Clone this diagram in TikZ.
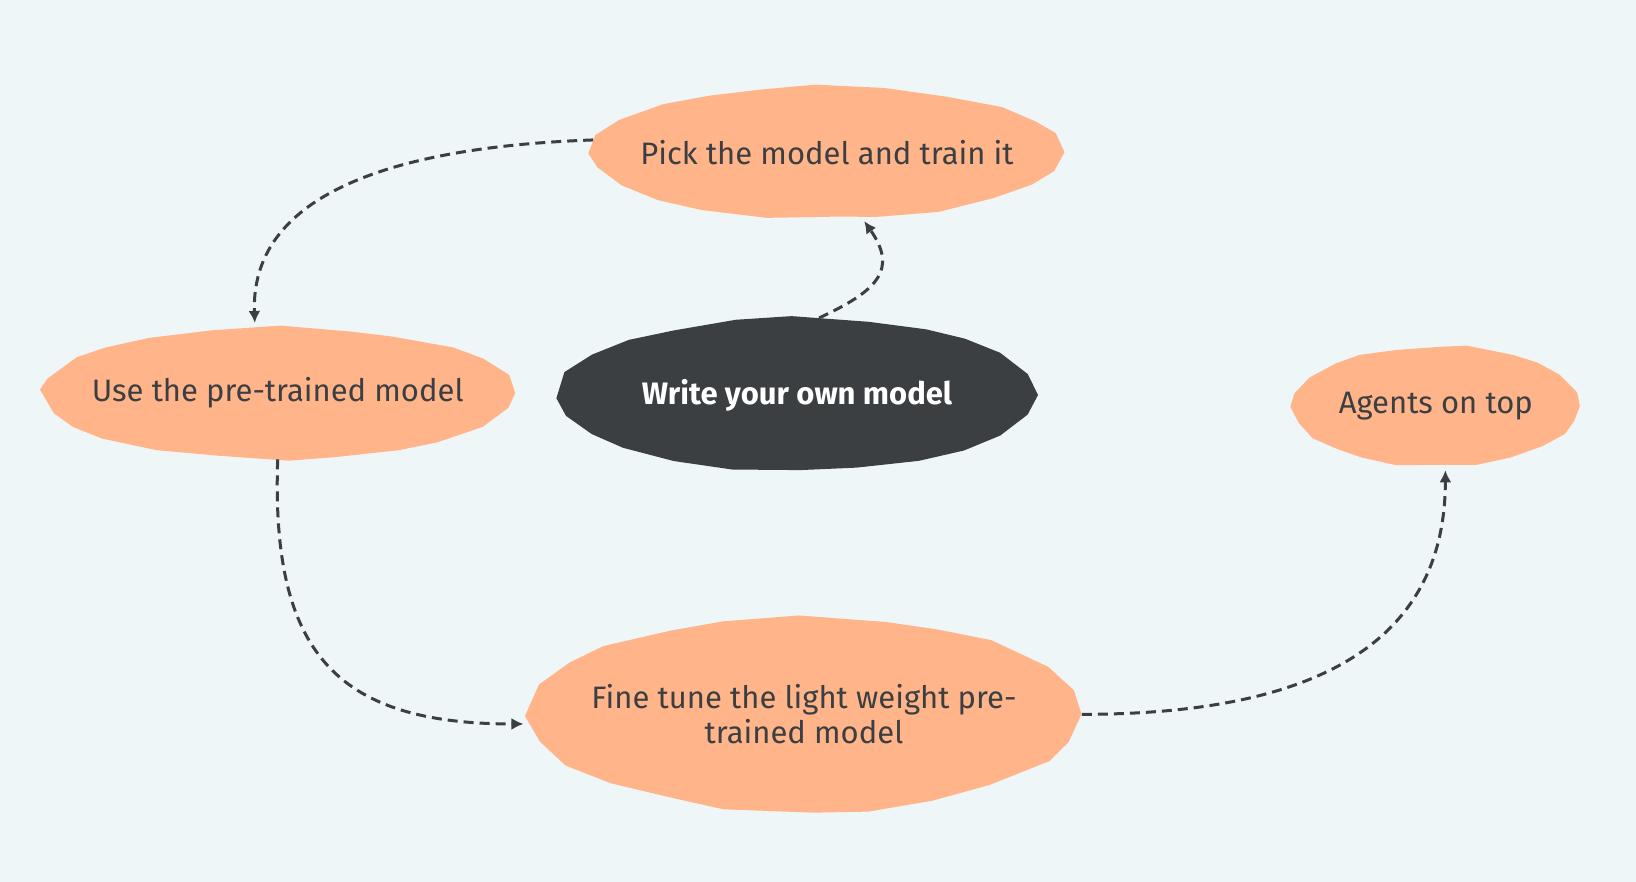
\documentclass[tikz,border=0pt]{standalone}
\usepackage{fontspec}
\setmainfont{Fira Sans}
\usetikzlibrary{positioning,shapes,arrows.meta}
\definecolor{paper}{HTML}{EEF6F7}
\definecolor{peach}{HTML}{FFB48A}
\definecolor{ink}{HTML}{3B3F42}
\pgfdeclarelayer{back}
\pgfdeclarelayer{blob}
\pgfsetlayers{back,blob,main}
\tikzstyle{stage}=[ellipse,text=ink,inner xsep=-40pt,inner ysep=0pt,align=center,
  font=\fontsize{15.5}{17.5}\selectfont]
\tikzstyle{link}=[draw=ink,dash pattern=on 5pt off 3pt,line width=1.5pt,->]
% name, text, width, height, fill, placement
\newcommand{\newStage}[6]{\node[stage,minimum width=#3,minimum height=#4](#1)[#6]{#2};
  \begin{pgfonlayer}{blob}
    \fill[#5] ([shift={(0:{#3/2} and {#4/2})}]#1.center)
      foreach \t in {15,30,...,345}{-- ([shift={(\t+rand*3:{#3/2*(1+rand*0.012)} and {#4/2*(1+rand*0.03)})}]#1.center)} -- cycle;
  \end{pgfonlayer}}
\newcommand{\newLink}[3]{\draw[link] (#1) to[#3] (#2);}

\begin{document}
\begin{tikzpicture}[>={Latex[length=6pt,width=6pt]},shorten >=2pt]
      \pgfmathsetseed{7}
      \begin{pgfonlayer}{back}
        \fill[paper] (0,0) rectangle (818pt,-441pt);
      \end{pgfonlayer}
      \useasboundingbox (0,0) rectangle (818pt,-441pt);
      \newStage{write}{\bfseries Write your own model}{241pt}{77pt}{ink}{at={(398.5pt,-197.5pt)},text=white}
      \newStage{pick}{Pick the model and train it}{237.5pt}{66pt}{peach}{above=49.5pt of write,xshift=15pt}
      \newStage{usemodel}{Use the pre-trained model}{237.5pt}{66pt}{peach}{left=20pt of write,yshift=1pt}
      \newStage{finetune}{Fine tune the light weight pre-\\trained model}{277.5pt}{97.5pt}{peach}{below=72pt of write,xshift=3.5pt}
      \newStage{agents}{Agents on top}{144pt}{60pt}{peach}{right=126.5pt of write,yshift=-5.5pt}
      \newLink{pick.177}{usemodel.109}{out=182,in=92}
      \newLink{write.74}{pick.298}{out=25,in=-55,looseness=1.5}
      \newLink{usemodel.south}{finetune.182}{out=-92,in=180,looseness=1.35}
      \newLink{finetune.east}{agents.-81}{out=0,in=-90,looseness=1.15}
    \end{tikzpicture}
\end{document}
